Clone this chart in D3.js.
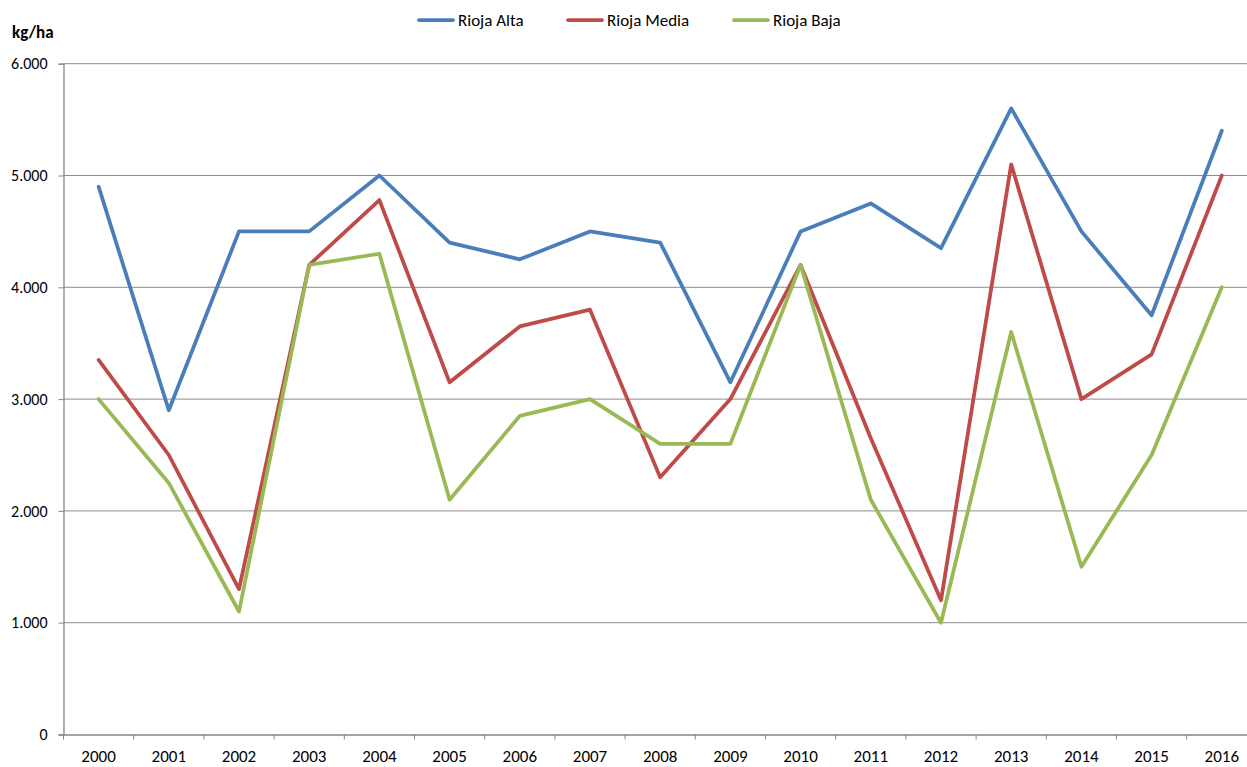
<!DOCTYPE html>
<html>
<head>
<meta charset="utf-8">
<script src="https://d3js.org/d3.v7.min.js"></script>
<style>
  body { margin: 0; background: #fff; }
  svg text { font-family: Carlito, Lato, 'Open Sans', sans-serif; fill: #000; }
</style>
</head>
<body>
<svg id="chart" width="1247" height="767"></svg>
<script>
// data
var years = ["2000","2001","2002","2003","2004","2005","2006","2007","2008",
             "2009","2010","2011","2012","2013","2014","2015","2016"];
var riojaAlta  = [4900,2900,4500,4500,5000,4400,4250,4500,4400,3150,4500,4750,4350,5600,4500,3750,5400];
var riojaMedia = [3350,2500,1300,4200,4780,3150,3650,3800,2300,3000,4200,2650,1200,5100,3000,3400,5000];
var riojaBaja  = [3000,2250,1100,4200,4300,2100,2850,3000,2600,2600,4200,2100,1000,3600,1500,2500,4000];
var yTicks = [0,1000,2000,3000,4000,5000,6000];

var series = [
  { name: "Rioja Alta",  values: riojaAlta,  color: "#4a7ebb" },
  { name: "Rioja Media", values: riojaMedia, color: "#be4b48" },
  { name: "Rioja Baja",  values: riojaBaja,  color: "#98b954" }
];

var svg = d3.select("#chart");
var plotLeft = 63.5, plotTop = 63.7, plotBottom = 734.5, band = 70.2;
var fs = "17px";

var x = d3.scaleBand().domain(years).range([plotLeft, plotLeft + band * years.length]);
var y = d3.scaleLinear().domain([0, 6000]).range([plotBottom, plotTop]);

var fmt = d3.formatLocale({ decimal: ",", thousands: ".", grouping: [3], currency: ["", "€"] }).format(",");

// gridlines
svg.append("g").selectAll("line").data(yTicks.filter(d => d > 0)).join("line")
  .attr("x1", plotLeft).attr("x2", 1247)
  .attr("y1", d => y(d)).attr("y2", d => y(d))
  .attr("stroke", "#8c8c8c").attr("stroke-width", 1);

// y axis
var yAxis = svg.append("g").attr("transform", "translate(" + plotLeft + ",0)")
  .call(d3.axisLeft(y).tickValues(yTicks).tickFormat(fmt).tickSize(5).tickPadding(11));
yAxis.select(".domain").attr("stroke", "#868686").attr("stroke-width", 1.3);
yAxis.selectAll(".tick line").attr("stroke", "#868686");
yAxis.selectAll("text").attr("font-size", "16px").attr("font-family", null);

// x axis
var xAxis = svg.append("g").attr("transform", "translate(0," + plotBottom + ")")
  .call(d3.axisBottom(x).tickSize(0).tickPadding(15));
xAxis.select(".domain").attr("stroke", "#868686").attr("stroke-width", 1.3);
xAxis.selectAll("text").attr("font-size", fs).attr("font-family", null);
// tick marks at band edges
svg.append("g").selectAll("line").data(years).join("line")
  .attr("x1", d => x(d)).attr("x2", d => x(d))
  .attr("y1", plotBottom).attr("y2", plotBottom + 5)
  .attr("stroke", "#868686");

// lines
var line = d3.line()
  .x((d, i) => x(years[i]) + x.bandwidth() / 2)
  .y(d => y(d));

svg.append("g").selectAll("path").data(series).join("path")
  .attr("d", d => line(d.values))
  .attr("fill", "none")
  .attr("stroke", d => d.color)
  .attr("stroke-width", 3.75)
  .attr("stroke-linejoin", "round")
  .attr("stroke-linecap", "round");

// title
svg.append("text").attr("x", 12).attr("y", 38)
  .attr("font-size", fs).attr("font-weight", "bold").text("kg/ha");

// legend
var legendX = [419, 568, 734];
var lg = svg.append("g").selectAll("g").data(series).join("g")
  .attr("transform", (d, i) => "translate(" + legendX[i] + ",20)");
lg.append("line").attr("x1", 0).attr("x2", 34).attr("y1", 0).attr("y2", 0)
  .attr("stroke", d => d.color).attr("stroke-width", 3.75).attr("stroke-linecap", "round");
lg.append("text").attr("x", 39).attr("y", 0).attr("dy", "0.35em")
  .attr("font-size", fs).text(d => d.name);
</script>
</body>
</html>
